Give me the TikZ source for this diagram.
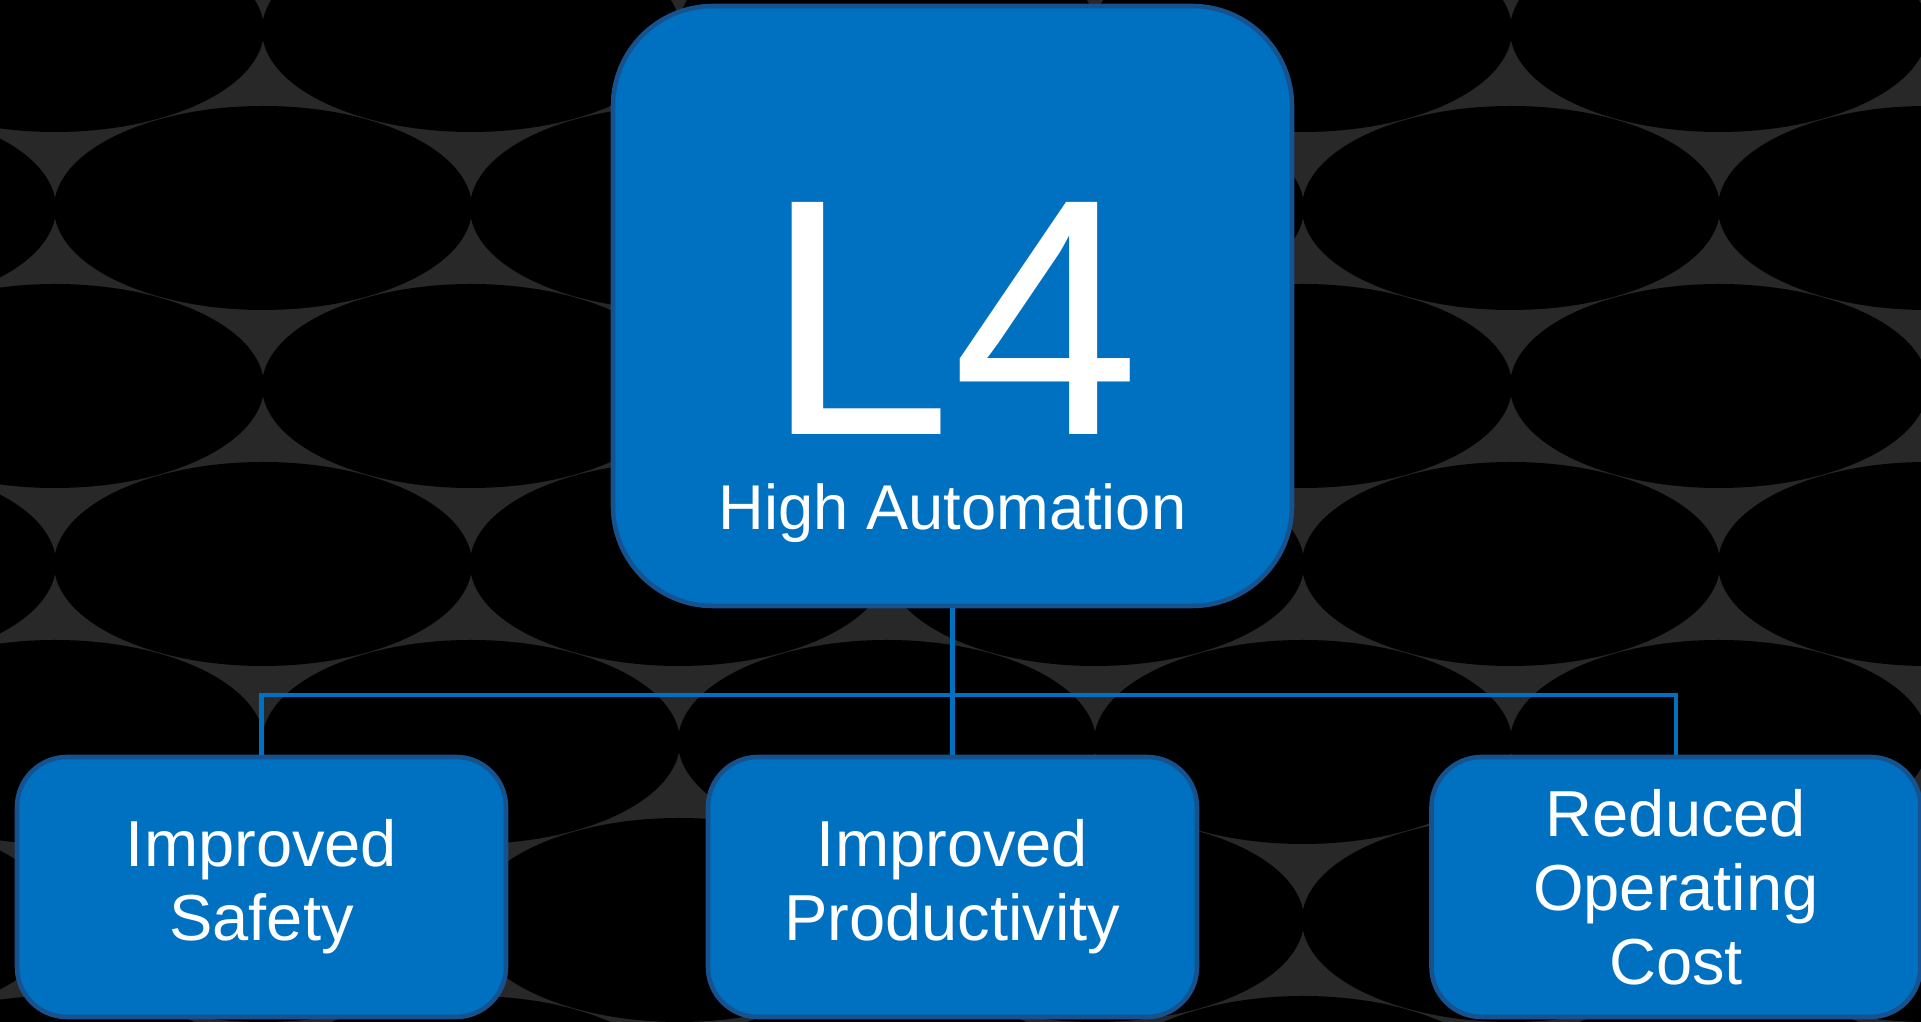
\documentclass[tikz,border=0pt]{standalone}
\usepackage{fontspec}
\setmainfont{Liberation Sans}
\usepackage{tikz}
\usepackage{xcolor}
\definecolor{boxblue}{RGB}{0,112,192}
\definecolor{boxedge}{RGB}{22,82,142}
\definecolor{tread}{RGB}{40,40,40}

\begin{document}
\begin{tikzpicture}[scale=1,
    level/.style={draw=boxedge, line width=1.3pt, fill=boxblue, rounded corners=0.5cm,
        minimum width=4.89cm, minimum height=2.6cm, text=white, align=center,
        font=\fontsize{18.5}{21}\selectfont},
    link/.style={draw=boxblue, line width=1.4pt}]
    \useasboundingbox (0,0) rectangle (19.21,10.22);
    \fill[tread] (0,0) rectangle (19.21,10.22);
    % tread pattern behind the chart
    \begin{scope}
        \clip (0,0) rectangle (19.21,10.22);
        \foreach \k in {0,...,6} {
            \pgfmathsetmacro{\yy}{9.92-1.78*\k}
            \pgfmathsetmacro{\xo}{mod(\k,2)==0 ? 0.55 : 2.63}
            \foreach \j in {-1,...,4}
                \fill[black] ({\xo+4.16*\j},\yy) ellipse (2.09 and 1.02);
        }
    \end{scope}
    \node[draw=boxedge, line width=1.3pt, fill=boxblue, rounded corners=1cm,
        minimum width=6.79cm, minimum height=6cm] (top) at (9.525,7.16) {};
    \node[anchor=base, inner sep=0, text=white, font=\fontsize{96}{96}\selectfont] (lfour) at (9.525,5.87) {L4};
    \node[anchor=base, inner sep=0, text=white, font=\fontsize{18}{20}\selectfont] (auto) at (9.525,4.92) {High Automation};
    \node[level] (safety) at (2.615,1.35) {Improved\\Safety};
    \node[level] (prod) at (9.525,1.35) {Improved\\Productivity};
    \node[level] (cost) at (16.76,1.35) {Reduced\\Operating\\Cost};
    \coordinate (bar) at (9.525,3.27);
    \draw[link] (top.south) -- (prod.north);
    \draw[link] (safety.north) |- (bar) -| (cost.north);
\end{tikzpicture}
\end{document}
